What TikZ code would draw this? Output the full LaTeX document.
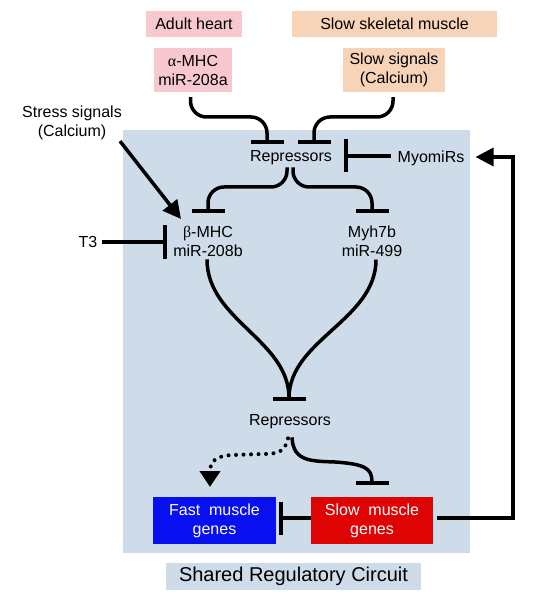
\documentclass[tikz,border=0pt]{standalone}
\usepackage{fontspec}
\setmainfont{Liberation Sans}
\newfontfamily\grk{Liberation Serif}
\usetikzlibrary{arrows.meta,calc}
\definecolor{pinkbox}{RGB}{248,200,208}
\definecolor{peachbox}{RGB}{247,212,184}
\definecolor{bgc}{RGB}{205,220,232}
\definecolor{fastc}{RGB}{8,16,240}
\definecolor{slowc}{RGB}{222,4,4}
\begin{document}
\begin{tikzpicture}[x=1pt,y=-1pt,
  lbl/.style={font=\fontsize{16}{19}\selectfont, align=center, inner sep=0pt},
  box/.style={lbl},
  con/.style={line width=3.5pt},
  inh/.style={con, -{Bar[width=33pt,line width=4pt]}},
  act/.style={con, line join=miter, -{Triangle[length=18pt,width=18pt]}},
  dots/.style={line width=4pt, dash pattern=on 0pt off 7.5pt, line cap=round,
    -{Triangle[length=16pt,width=20pt]}},
]
\useasboundingbox (0,0) rectangle (543,601);
% background of the shared circuit
\fill[bgc] (123,130) rectangle (470,553);

% nodes
\node[box, fill=pinkbox, minimum width=96pt, minimum height=26pt] (heart) at (194,24) {Adult heart};
\node[box, fill=peachbox, minimum width=205pt, minimum height=26pt] (skel) at (394.5,24) {Slow skeletal muscle};
\node[box, fill=pinkbox, minimum width=78pt, minimum height=44pt] (amhc) at (193,70) {{\grk α}-MHC\\miR-208a};
\node[box, fill=peachbox, minimum width=102pt, minimum height=44pt] (slowsig) at (394,70) {Slow signals\\(Calcium)};
\node[lbl] (rep1) at (291,158) {Repressors};
\node[lbl] (myo) at (431,158) {MyomiRs};
\node[lbl] (stress) at (72,123) {Stress signals\\(Calcium)};
\node[lbl] (bmhc) at (208,241) {{\grk β}-MHC\\miR-208b};
\node[lbl] (myh) at (372,241) {Myh7b\\miR-499};
\node[lbl] (t3) at (88,242) {T3};
\node[lbl] (rep2) at (290,422) {Repressors};
\node[box, fill=fastc, text=white, minimum width=123pt, minimum height=47pt] (fast) at (214.5,520.5) {Fast\ \ muscle\\genes};
\node[box, fill=slowc, text=white, minimum width=122pt, minimum height=47pt] (slow) at (372,520.5) {Slow\ \ muscle\\genes};
\node[box, fill=bgc, minimum width=255pt, minimum height=27pt, font=\fontsize{20}{24}\selectfont] (shared) at (293.5,576.5) {Shared Regulatory Circuit};

% target coordinates (bars and arrow tips)
\coordinate (rep1L) at (267,144);
\coordinate (rep1R) at (314,144);
\coordinate (bmhcT) at (208,213.5);
\coordinate (myhT) at (372,213.5);
\coordinate (rep2T) at (289,401);
\coordinate (slowT) at (372,484.5);
\coordinate (myoBar) at (343.5,156);
\coordinate (t3Bar) at (166.5,242);
\coordinate (fastBar) at (278.5,518);
\coordinate (bmhcArr) at (181,219);
\coordinate (fastArr) at (210,487);

% connectors
\draw[inh, rounded corners=16pt] ($(amhc.south)+(-2.5,5)$) |- (229,117) -| (rep1L);
\draw[inh, rounded corners=16pt] ($(slowsig.south)+(-1,5)$) |- (354,117) -| (rep1R);
\draw[inh, rounded corners=16pt] ($(rep1.south)+(-4,2)$) |- (248,187) -| (bmhcT);
\draw[inh, rounded corners=16pt] ($(rep1.south)+(2,2)$) |- (332,187) -| (myhT);
\draw[inh] ($(bmhc.south)+(-1,3)$) .. controls (207,320) and (289,340) .. (rep2T);
\draw[inh] ($(myh.south)+(4,3)$) .. controls (376,320) and (289,340) .. (rep2T);
\draw[inh] ($(rep2.south)+(2,8)$) .. controls (293,462) and (312,461) .. (335,462)
  .. controls (364,464) and (372,468) .. (slowT);
\draw[dots] ($(rep2.south)+(-2,9)$) .. controls (285,452) and (278,454) .. (262,454)
  -- (232,455) .. controls (215,456) and (210,462) .. (fastArr);
\draw[act] ($(stress.south east)+(-2,1)$) -- (bmhcArr);
\draw[act] ($(slow.east)+(4,-2.5)$) -| (513,157) -- ($(myo.east)+(11,-1)$);
\draw[inh] ($(myo.west)+(-6,-2)$) -- (myoBar);
\draw[inh] ($(t3.east)+(4,0)$) -- (t3Bar);
\draw[inh] ($(slow.west)+(0,-2.5)$) -- (fastBar);
\end{tikzpicture}
\end{document}
